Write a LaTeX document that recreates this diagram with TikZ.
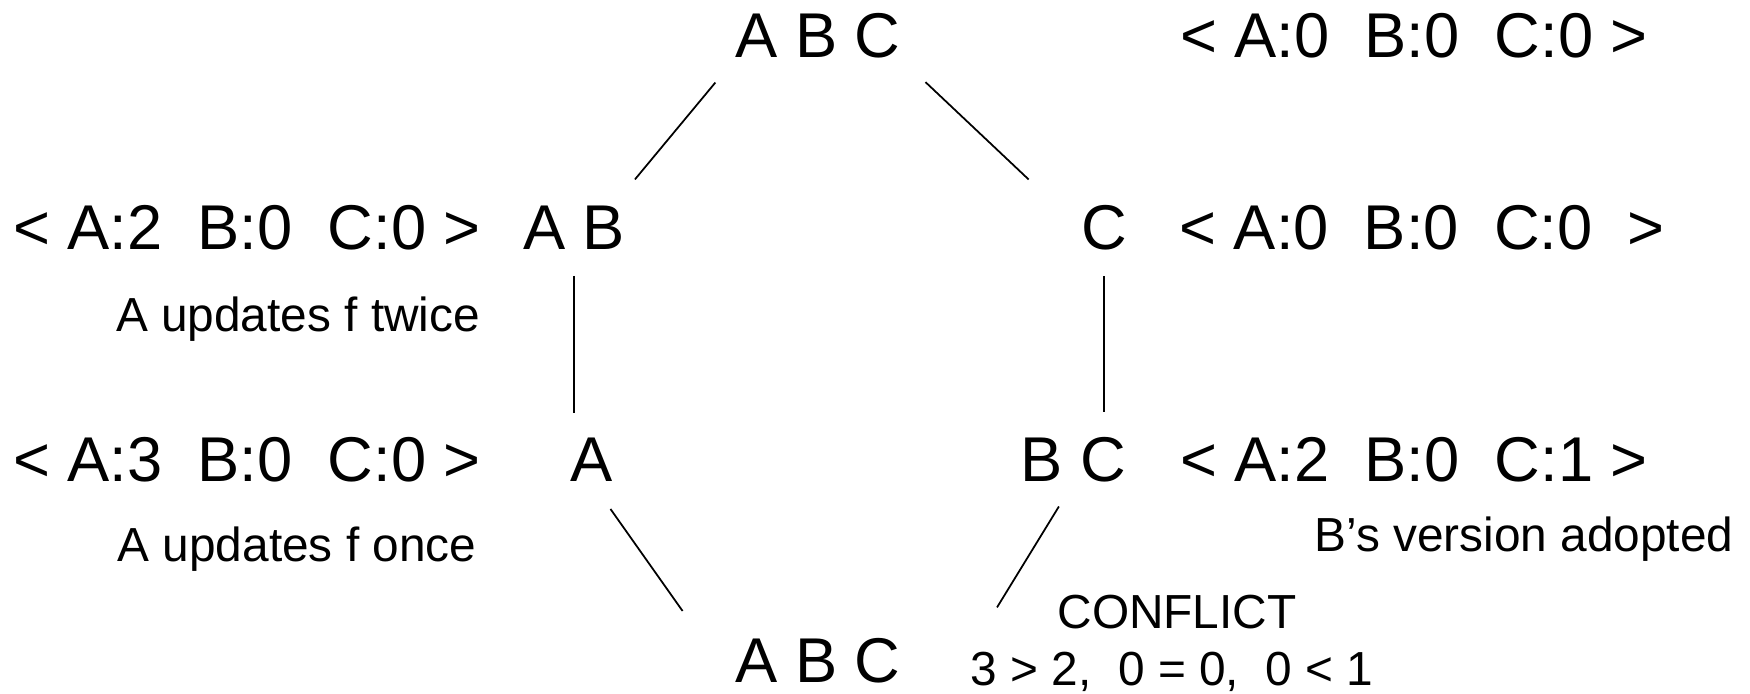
\documentclass[tikz,border=0pt]{standalone}
\usepackage{fontspec}
\setmainfont{Liberation Sans}

\begin{document}
\begin{tikzpicture}[line width=0.5pt]
\tikzstyle{site}=[inner sep=0pt,anchor=base,font=\fontsize{18}{22}\selectfont]
\tikzstyle{note}=[inner sep=0pt,anchor=base,font=\fontsize{13.6}{16}\selectfont]
\useasboundingbox (0,0) rectangle (17.5,6.94);
% partitions
\node[site] (abc1) at (8.18,6.36) {A B C};
\node[site] (ab) at (5.74,4.44) {A B};
\node[site] (c) at (11.04,4.44) {C};
\node[site] (a) at (5.92,2.12) {A};
\node[site] (bc) at (10.73,2.12) {B C};
\node[site] (abc2) at (8.18,0.11) {A B C};
% version vectors
\foreach \n/\x/\y/\t in {v1/14.14/6.36/{< A:0~~B:0~~C:0 >},
                         v2/2.47/4.44/{< A:2~~B:0~~C:0 >},
                         v3/14.22/4.44/{< A:0~~B:0~~C:0~~>},
                         v4/2.47/2.12/{< A:3~~B:0~~C:0 >},
                         v5/14.14/2.12/{< A:2~~B:0~~C:1 >}}
  \node[site] (\n) at (\x,\y) {\t};
\node[note] (twice) at (2.98,3.62) {A updates f twice};
\node[note] (once) at (2.97,1.32) {A updates f once};
\node[note] (adopt) at (15.24,1.42) {B’s version adopted};
\node[note] (confl) at (11.77,0.65) {CONFLICT};
\node[note] (cmp) at (11.72,0.08) {3 > 2,~~0 = 0,~~0 < 1};
% splits and merge
\draw[shorten <=0.30cm,shorten >=0.34cm] (abc1.south west) -- (ab.30);
\draw[shorten <=0.33cm,shorten >=0.71cm] (abc1.south east) -- (c.west);
\draw[shorten <=0.25cm,shorten >=0.25cm] (ab.south) -- (ab.south |- a.north);
\draw[shorten <=0.25cm,shorten >=0.25cm] (c.south) -- (c.south |- bc.north);
\draw[shorten <=0.32cm,shorten >=0.90cm] (a.south) -- (abc2.south west);
\draw[shorten <=0.27cm,shorten >=0.52cm] (bc.south) -- (cmp.north west);
\end{tikzpicture}
\end{document}
